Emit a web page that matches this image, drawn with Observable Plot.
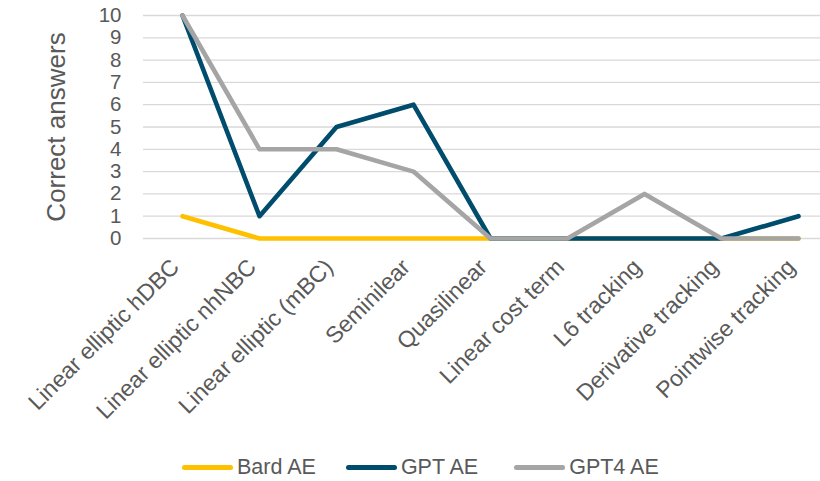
<!DOCTYPE html>
<html><head><meta charset="utf-8">
<script src="https://cdn.jsdelivr.net/npm/d3@7"></script>
<script src="https://cdn.jsdelivr.net/npm/@observablehq/plot@0.6"></script>
<style>
body{margin:0;background:#fff;font-family:"Liberation Sans",Arial,sans-serif;overflow:hidden;}
#chart svg{display:block;}
#legend{display:flex;justify-content:flex-start;align-items:center;height:43px;padding-left:182px;font-size:21.5px;color:#595959;}
.item{display:flex;align-items:center;}
.sw{width:51px;height:5px;border-radius:3px;margin-right:4px;}
</style></head><body>
<div id="chart"></div>
<div id="legend"></div>
<script>
const categories = ["Linear elliptic hDBC","Linear elliptic nhNBC","Linear elliptic (mBC)","Seminilear","Quasilinear","Linear cost term","L6 tracking","Derivative tracking","Pointwise tracking"];
const seriesNames = ["Bard AE","GPT AE","GPT4 AE"];
const bard = [1,0,0,0,0,0,0,0,0];
const gpt = [10,1,5,6,0,0,0,0,1];
const gpt4 = [10,4,4,3,0,0,2,0,0];
const yTicks = [0,1,2,3,4,5,6,7,8,9,10];
const colors = ["#FFC000","#004C6D","#A5A5A5"];

const values = [bard, gpt, gpt4];
const data = [];
values.forEach((arr, s) => arr.forEach((v, i) => data.push({series: seriesNames[s], cat: categories[i], v})));

const chart = Plot.plot({
  width: 820, height: 446,
  marginLeft: 143, marginRight: 0, marginTop: 15, marginBottom: 208,
  style: {fontFamily: "Liberation Sans, Arial, sans-serif", color: "#595959", background: "#fff"},
  x: {type: "point", domain: categories, range: [181, 799], padding: 0, axis: null},
  y: {domain: [0, 10], axis: null},
  color: {domain: seriesNames, range: colors},
  marks: [
    Plot.gridY(yTicks, {stroke: "#d9d9d9", strokeOpacity: 1, strokeWidth: 1.3}),
    Plot.axisY(yTicks, {tickSize: 0, tickPadding: 22, fontSize: 20.5, label: null, fill: "#595959"}),
    Plot.text(categories, {x: d => d, frameAnchor: "bottom", dy: 30, dx: -2, rotate: -45, textAnchor: "end", fontSize: 23, fill: "#595959"}),
    Plot.text(["Correct answers"], {frameAnchor: "left", dx: -87, rotate: -90, textAnchor: "middle", fontSize: 26, fill: "#595959"}),
    Plot.line(data, {x: "cat", y: "v", z: "series", stroke: "series", strokeWidth: 4.6, strokeLinecap: "round", strokeLinejoin: "round"})
  ]
});
document.getElementById("chart").appendChild(chart);

const lg = document.getElementById("legend");
const gaps = [0, 30, 36];
seriesNames.forEach((n, i) => {
  const it = document.createElement("div");
  it.className = "item";
  it.style.marginLeft = gaps[i] + "px";
  it.innerHTML = `<div class="sw" style="background:${colors[i]}"></div><span>${n}</span>`;
  lg.appendChild(it);
});
</script>
</body></html>
